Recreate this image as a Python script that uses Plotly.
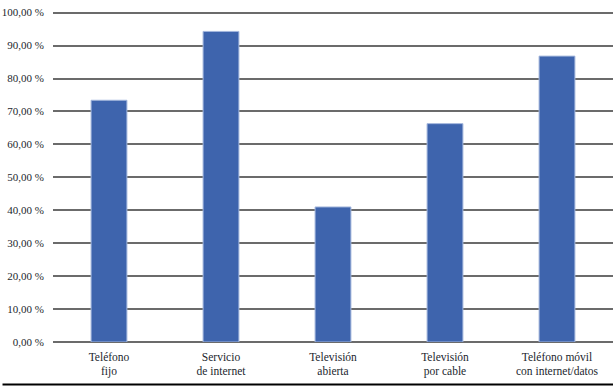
import plotly.graph_objects as go

categories = ["Teléfono<br>fijo", "Servicio<br>de internet", "Televisión<br>abierta",
              "Televisión<br>por cable", "Teléfono móvil<br>con internet/datos"]
values = [73.4, 94.3, 41.0, 66.3, 86.8]
y_ticks = [0, 10, 20, 30, 40, 50, 60, 70, 80, 90, 100]

font_family = "Liberation Serif"
text_color = "#1c1f2e"

W, H = 614, 390
L, R, T, B = 52.5, 1.3, 9.7, 48.3
plot_w = W - L - R
plot_h = H - T - B

fig = go.Figure(go.Bar(
    x=categories, y=values,
    marker=dict(color="#3e64ad", line=dict(color="#a3b6dc", width=1)),
    width=0.32,
))

fig.update_layout(
    width=W, height=H,
    margin=dict(l=L, r=R, t=T, b=B, autoexpand=False),
    plot_bgcolor="white", paper_bgcolor="white",
    separators=",.",
    showlegend=False,
    font=dict(family=font_family, size=11, color=text_color),
    shapes=[dict(type="line", xref="paper", yref="paper",
                 x0=-(L - 2) / plot_w, x1=1.0,
                 y0=-42.5 / plot_h, y1=-42.5 / plot_h,
                 line=dict(color="black", width=2))],
)
fig.update_xaxes(showline=False, showgrid=False, ticks="", automargin=False,
                 tickfont=dict(family=font_family, size=11.5),
                 ticklabelstandoff=6)
fig.update_yaxes(range=[0, 100.8], tickvals=y_ticks, automargin=False,
                 ticktext=[f"{v:.2f}".replace(".", ",") + " %" for v in y_ticks],
                 showgrid=True, gridcolor="#6b6b6b", gridwidth=1.5,
                 zeroline=True, zerolinecolor="#6b6b6b", zerolinewidth=1.5,
                 showline=False, ticks="", ticklabelstandoff=8,
                 ticklabeloverflow="allow",
                 tickfont=dict(family=font_family, size=11))

# remove the browser's default 8px body margin so the figure fills the window
fig.write_html("out.html", config={"displayModeBar": False},
               post_script="document.body.style.margin='0';")
